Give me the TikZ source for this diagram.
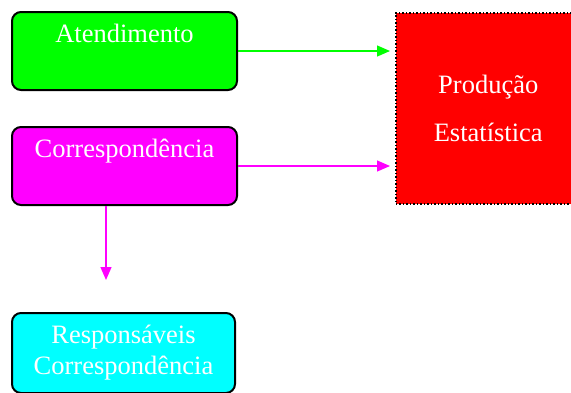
\documentclass[tikz,border=0pt]{standalone}
\usepackage{fontspec}
\setmainfont{Liberation Serif}
\usetikzlibrary{calc,arrows.meta}

\definecolor{atengreen}{RGB}{0,255,0}
\definecolor{corrmagenta}{RGB}{255,0,255}
\definecolor{respcyan}{RGB}{0,255,255}
\definecolor{prodred}{RGB}{255,0,0}

\begin{document}
\begin{tikzpicture}[
  x=1pt,
  y=-1pt
]

  \tikzstyle{deptnode}=[draw,rectangle,rounded corners=9pt,line width=2pt,minimum width=225pt,inner sep=0pt,text height=30.5pt,text depth=47.5pt,text=white,font=\fontsize{26.5}{31}\selectfont,anchor=north west]
  \tikzstyle{outnode}=[draw,rectangle,dotted,line width=1.5pt,fill=prodred,minimum width=185pt,minimum height=191pt,inner sep=0pt,text=white,align=center,font=\fontsize{26.5}{48}\selectfont,anchor=north west]

  \tikzstyle{pointer}=[draw,line width=1.3pt,->,>={Triangle[length=13pt,width=11pt]}]

  \useasboundingbox (0,0) rectangle (571,392);

  % nodes
  \node[deptnode,fill=atengreen] (aten) at (11,11) {Atendimento};
  \node[deptnode,fill=corrmagenta] (corr) at (11,126) {Correspondência};
  \node[deptnode,fill=respcyan,minimum width=223pt,minimum height=80pt,text height=,text depth=,align=center,font=\fontsize{26.5}{31}\selectfont] (resp) at (11,312) {Responsáveis\\Correspondência};

  \node[outnode] (prod) at (395,12) {Produção\\Estatística};

  \coordinate (respin) at (106,280);

  % pointers
  \draw[pointer,atengreen,shorten >=5pt] (aten.east) -- (aten.east -| prod.west);
  \draw[pointer,corrmagenta,shorten >=5pt] (corr.east) -- (corr.east -| prod.west);
  \draw[pointer,corrmagenta] (corr.south -| respin) -- (respin);

\end{tikzpicture}
\end{document}
